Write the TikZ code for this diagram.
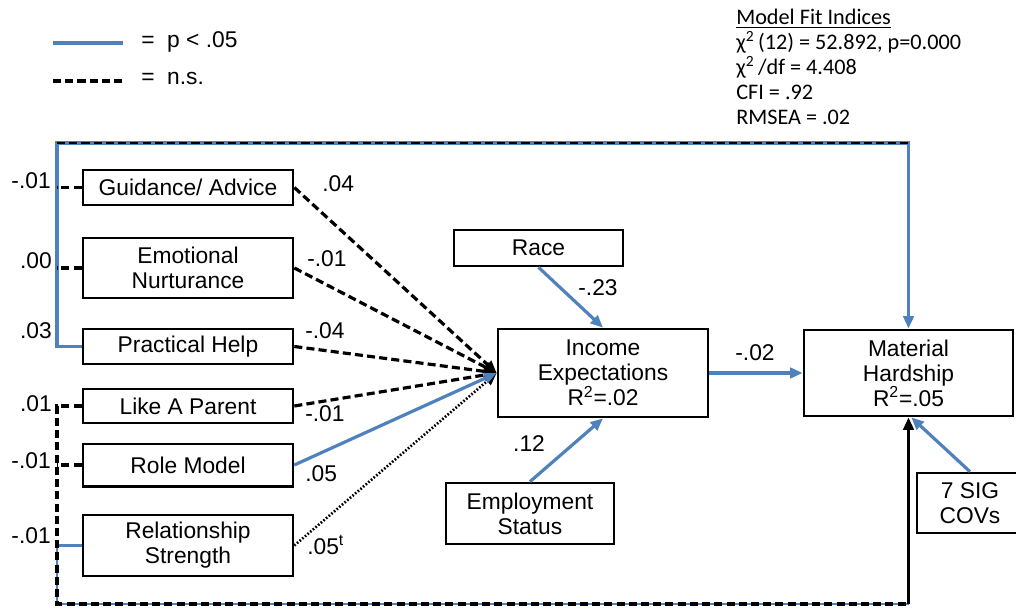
\documentclass[tikz,border=0pt]{standalone}
\usepackage{fontspec}
\setmainfont{Liberation Sans}
\newfontfamily\fitfont{Carlito}
\usetikzlibrary{arrows.meta}
\definecolor{sigblue}{RGB}{79,129,189}
\begin{document}
\begin{tikzpicture}[x=0.72pt,y=-0.72pt,
  box/.style={draw=black, line width=1.9pt, inner sep=0pt, align=center,
              font=\fontsize{16.4}{18}\selectfont},
  lbl/.style={inner sep=0pt, font=\fontsize{16.4}{18}\selectfont},
  fitline/.style={inner sep=0pt, anchor=base west, font=\fitfont\fontsize{16}{18}\selectfont},
  sig/.style={draw=sigblue, line width=2.3pt},
  ns/.style={draw=black, line width=2.3pt, dash pattern=on 5.8pt off 3pt},
  dots/.style={draw=black, line width=1.9pt, dash pattern=on 1.2pt off 1.3pt},
  btip/.style={-{Triangle[length=9pt,width=7.5pt]}},
]
\useasboundingbox (0,0) rectangle (1016,609);

% legend
\coordinate (la) at (53,43);
\coordinate (lb) at (123,43);
\coordinate (lc) at (53,81);
\coordinate (ld) at (123,81);
\draw[sig, line width=2.6pt] (la) -- (lb);
\draw[ns] (lc) -- (ld);
\node[lbl, anchor=mid west] (legsig) at (141,44) {=\ \ p < .05};
\node[lbl, anchor=mid west] (legns) at (141,81) {=\ \ n.s.};

% fit indices
\node[fitline] (fit1) at (736,25) {\underline{Model Fit Indices}};
\node[fitline] (fit2) at (736,50) {χ\textsuperscript{2}\,(12) = 52.892, p=0.000};
\node[fitline] (fit3) at (736,75) {χ\textsuperscript{2}\,/df = 4.408};
\node[fitline] (fit4) at (736,100) {CFI = .92};
\node[fitline] (fit5) at (736,125) {RMSEA = .02};

% predictor boxes
\node[box, minimum width=151.2pt, minimum height=25.2pt] (guid) at (188,187.5) {Guidance/ Advice};
\node[box, minimum width=151.2pt, minimum height=43.2pt] (emo) at (188,268) {Emotional\\Nurturance};
\node[box, minimum width=151.2pt, minimum height=25.2pt] (prac) at (188,346.5) {Practical Help};
\node[box, minimum width=151.2pt, minimum height=24.5pt] (par) at (188,406) {Like A Parent};
\node[box, minimum width=151.2pt, minimum height=30.5pt] (role) at (188,465) {Role Model};
\node[box, minimum width=151.2pt, minimum height=44pt] (rel) at (188,545.5) {Relationship\\Strength};

% outcome and control boxes
\node[box, minimum width=121.7pt, minimum height=25.9pt] (race) at (538.5,248) {Race};
\node[box, minimum width=151.2pt, minimum height=63.4pt] (inc) at (603,373) {Income\\Expectations\\R\textsuperscript{2}=.02};
\node[box, minimum width=121pt, minimum height=44pt] (emp) at (530,513.5) {Employment\\Status};
\node[box, minimum width=150.5pt, minimum height=62pt] (mat) at (908.5,373) {Material\\Hardship\\R\textsuperscript{2}=.05};
\node[box, minimum width=76.3pt, minimum height=43.2pt] (cov) at (970,503) {7 SIG\\COVs};

% frame routes to material hardship
\coordinate (tl) at (57,143);
\coordinate (tr) at (mat.north |- tl);
\coordinate (bl) at (57,604);
\coordinate (br) at (mat.south |- bl);

\draw[sig, line width=2.6pt, btip] (prac.west) -| (tl) -- (tr) -- (mat.north);
\draw[ns, line width=2pt] (tl) -- (tr);
\draw[ns] (guid.west) -- (guid.west -| tl);
\draw[ns] (emo.west) -- (emo.west -| tl);

\draw[sig, line width=1.8pt] (rel.west) -| (bl) -- (br);
\draw[ns] (par.west) -| (bl) -- (br);
\draw[ns] (role.west) -- (role.west -| bl);
\draw[black, line width=2.2pt, btip] (br) -- (mat.south);

% paths into income expectations
\draw[ns, btip] (guid.east) -- (inc.west);
\draw[ns, btip] (emo.east) -- (inc.west);
\draw[ns, btip] (prac.east) -- (inc.west);
\draw[ns, btip] (par.east) -- (inc.west);
\draw[dots, btip] (rel.east) -- (inc.west);
\draw[sig, btip] (role.east) -- (inc.west);

\draw[sig, btip] (race.south) -- (inc.north);
\draw[sig, btip] (emp.north) -- (inc.south);
\draw[sig, btip] (inc.east) -- (mat.west);
\draw[sig, btip] (cov.north) -- ([xshift=2pt]mat.south);

% coefficients, left side
\node[lbl, anchor=mid east] (cguidl) at (51,185) {-.01};
\node[lbl, anchor=mid east] (cemol) at (52,265) {.00};
\node[lbl, anchor=mid east] (cpracl) at (52,335) {.03};
\node[lbl, anchor=mid east] (cparl) at (52,408) {.01};
\node[lbl, anchor=mid east] (crolel) at (51,465) {-.01};
\node[lbl, anchor=mid east] (crell) at (51,540) {-.01};

% coefficients, paths to income expectations
\node[lbl, anchor=mid west] (cguid) at (322,188) {.04};
\node[lbl, anchor=mid west] (cemo) at (307,263) {-.01};
\node[lbl, anchor=mid west] (cprac) at (305,335) {-.04};
\node[lbl, anchor=mid west] (cpar) at (305,418) {-.01};
\node[lbl, anchor=mid west] (crole) at (305,478) {.05};
\node[lbl, anchor=mid west] (crel) at (307,551) {.05\textsuperscript{t}};
\node[lbl, anchor=mid] (crace) at (598,292) {-.23};
\node[lbl, anchor=mid] (cemp) at (529,448) {.12};
\node[lbl, anchor=mid] (cinc) at (755,357) {-.02};
\end{tikzpicture}
\end{document}
